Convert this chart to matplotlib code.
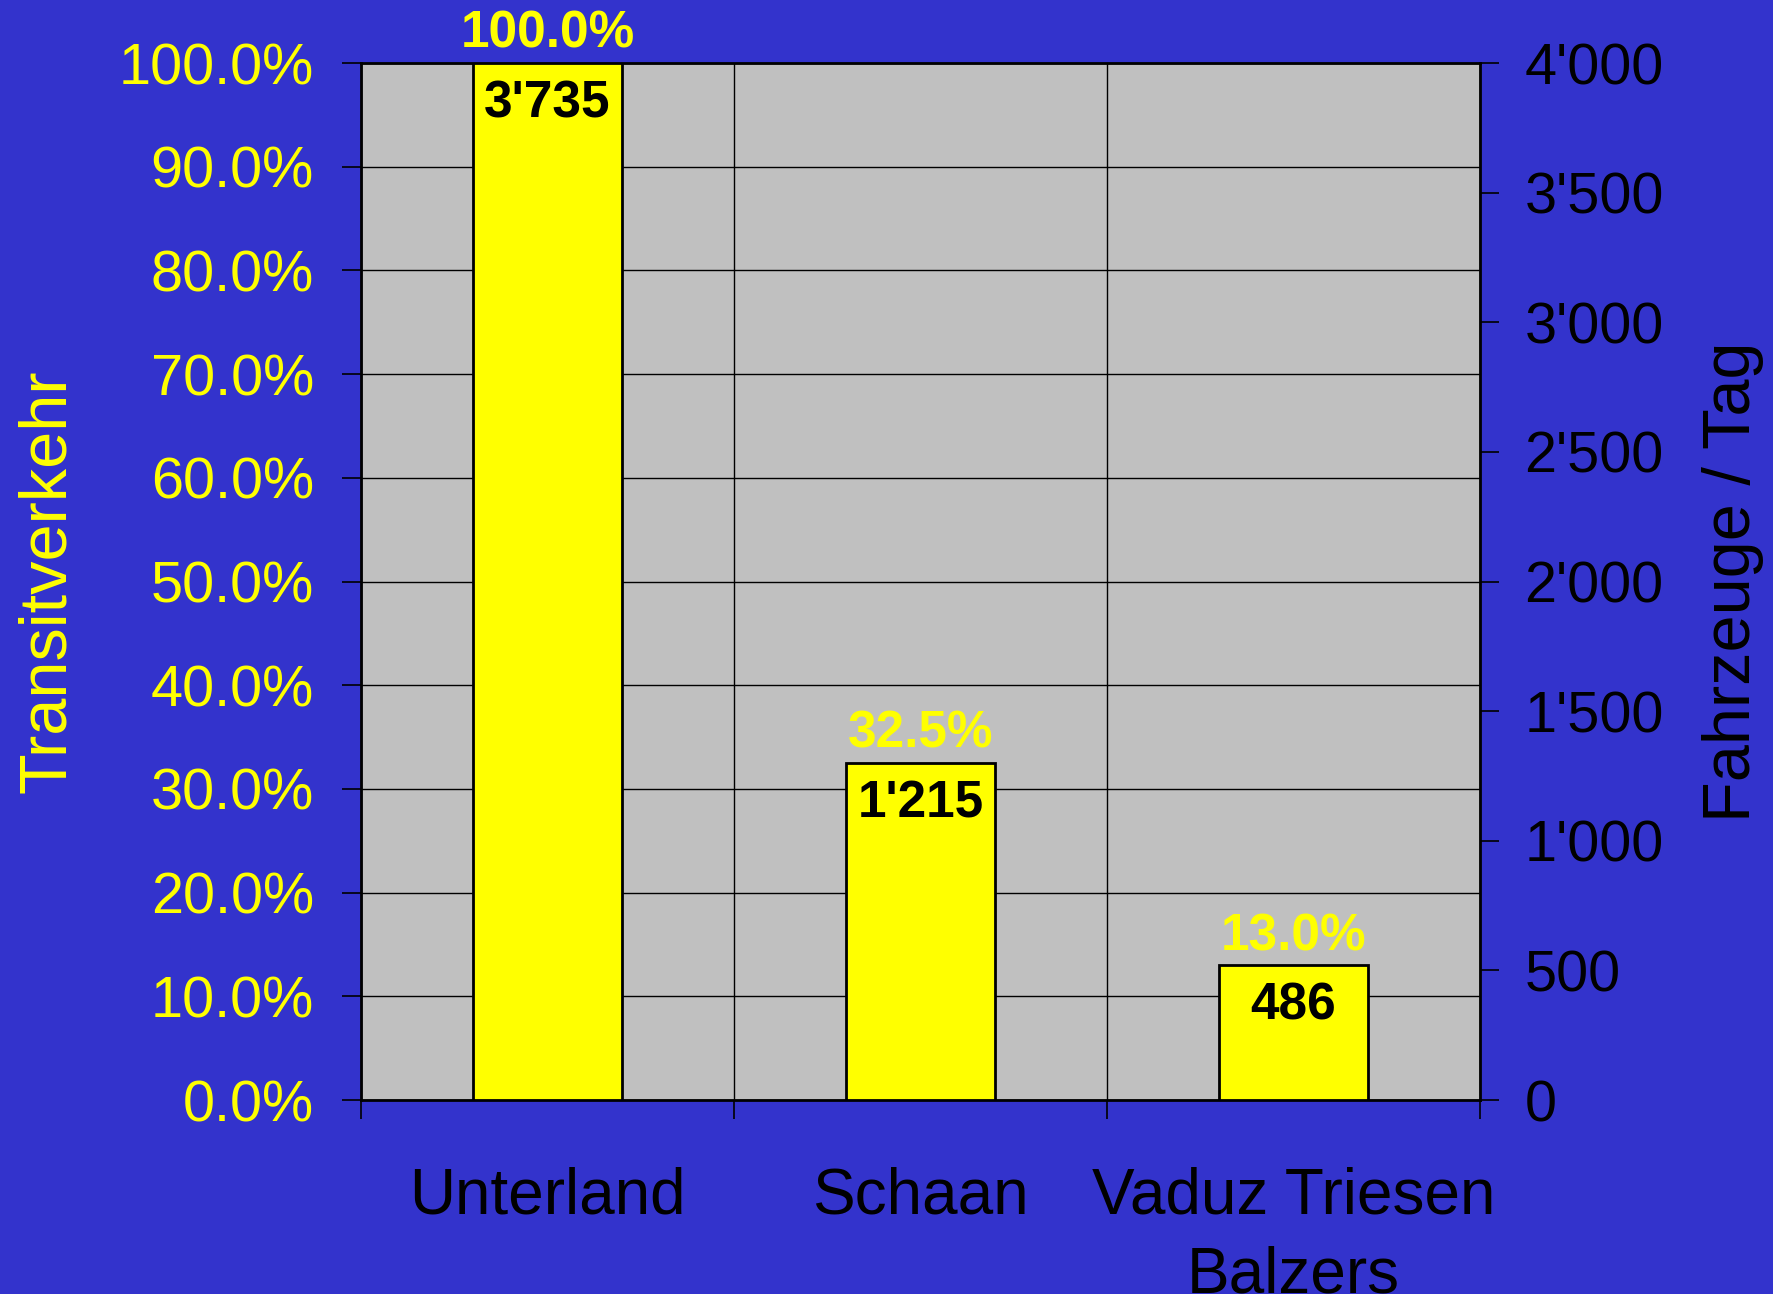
import numpy as np
import matplotlib.pyplot as plt
from matplotlib.ticker import FuncFormatter, MultipleLocator

plt.rcParams['font.family'] = ['Liberation Sans', 'DejaVu Sans']

categories = ['Unterland', 'Schaan', 'Vaduz Triesen\nBalzers']
share_pct = [100.0, 32.5, 13.0]
vehicles = [3735, 1215, 486]

BG = '#3333CC'
YEL = '#FFFF00'


def swiss(v, pos=None):
    return '{:,.0f}'.format(v).replace(',', "'")


fig = plt.figure(figsize=(17.74, 12.94), dpi=100, facecolor=BG)
ax = fig.add_axes([0.2035, 0.1499, 0.6308, 0.8014])
ax.set_facecolor('#C0C0C0')

x = np.arange(len(categories))
bars = ax.bar(x, share_pct, width=0.4, color=YEL, edgecolor='black', linewidth=2, zorder=3)

ax.set_xlim(-0.5, len(categories) - 0.5)
ax.set_ylim(0, 100)
ax.yaxis.set_major_locator(MultipleLocator(10))
ax.yaxis.set_major_formatter(FuncFormatter(lambda v, p: '%.1f%%' % v))
ax.tick_params(axis='y', colors='black', labelcolor=YEL, labelsize=41.5, length=14, width=1.2, pad=20)

# category boundaries as ticks / vertical grid, labels in centre
ax.set_xticks(np.arange(len(categories) + 1) - 0.5)
ax.set_xticklabels([])
ax.tick_params(axis='x', length=14, width=1.2, colors='black')
ax.set_xticks(x, minor=True)
ax.set_xticklabels(categories, minor=True, fontsize=46, color='black', linespacing=1.4)
ax.tick_params(axis='x', which='minor', length=0, pad=48)

ax.grid(True, which='major', color='black', linewidth=1.0, zorder=1)
for s in ax.spines.values():
    s.set_linewidth(2)
    s.set_color('black')

ax.set_ylabel('Transitverkehr', color=YEL, fontsize=48)
ax.yaxis.set_label_coords(-0.252, 0.5)

ax2 = ax.twinx()
ax2.set_ylim(0, 4000)
ax2.yaxis.set_major_locator(MultipleLocator(500))
ax2.yaxis.set_major_formatter(FuncFormatter(swiss))
ax2.tick_params(axis='y', colors='black', labelsize=41.5, length=14, width=1.2, pad=18)
for s in ax2.spines.values():
    s.set_visible(False)
ax2.set_ylabel('Fahrzeuge / Tag', color='black', fontsize=48)
ax2.yaxis.set_label_coords(1.198, 0.5)

for xi, p, n in zip(x, share_pct, vehicles):
    ax.annotate('%.1f%%' % p, (xi, p), xytext=(0, 3), textcoords='offset points',
                ha='center', va='bottom', color=YEL, fontsize=37, fontweight='bold',
                annotation_clip=False, zorder=5)
    ax.annotate(swiss(n), (xi, p), xytext=(0, -12), textcoords='offset points',
                ha='center', va='top', color='black', fontsize=37, fontweight='bold', zorder=5)

fig.savefig('out.png', dpi=100, facecolor=BG)
